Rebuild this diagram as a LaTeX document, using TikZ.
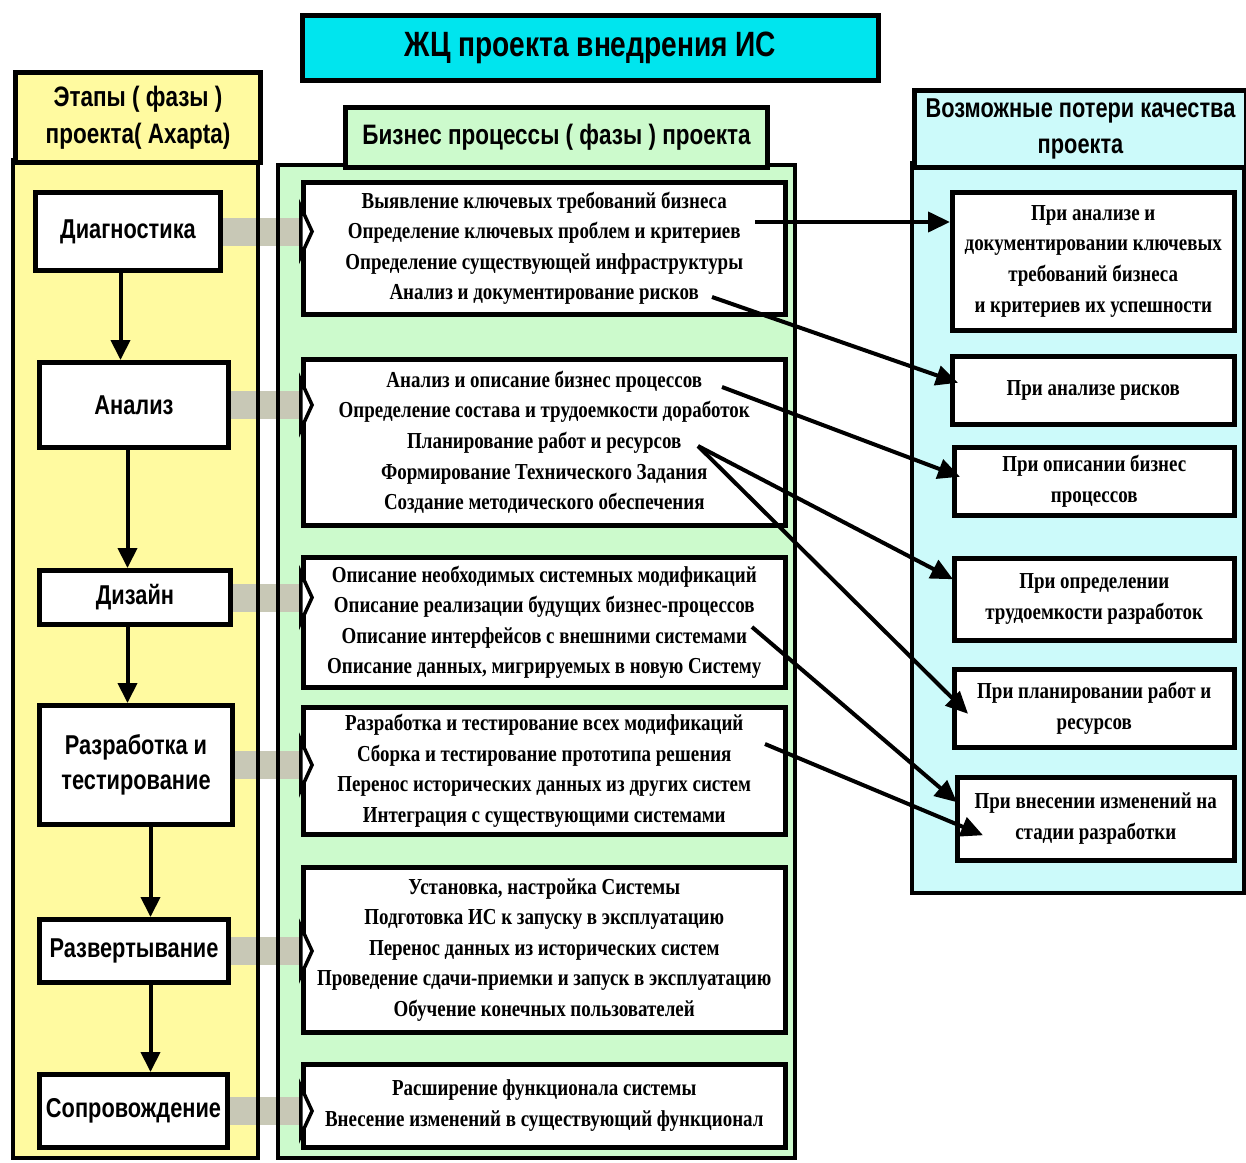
\documentclass[tikz,border=0pt]{standalone}
\usepackage{fontspec}
\setmainfont{Liberation Serif}
\newfontfamily\headfont[FakeStretch=0.8]{Liberation Sans}
\newfontfamily\procfont[FakeStretch=0.83]{Liberation Serif}
\usetikzlibrary{arrows.meta}
\definecolor{titlecyan}{RGB}{0,229,238}
\definecolor{stagebg}{RGB}{255,250,160}
\definecolor{procbg}{RGB}{204,250,204}
\definecolor{lossbg}{RGB}{204,250,250}
\definecolor{shaftgray}{RGB}{200,200,182}
\tikzset{
  hdbox/.style={draw,line width=1mm,align=center,anchor=north west,inner sep=0pt,
    font=\headfont\bfseries\fontsize{16}{21}\selectfont},
  stagebox/.style={draw,fill=white,line width=1mm,align=center,anchor=north west,inner sep=0pt,
    font=\headfont\bfseries\fontsize{15.5}{20}\selectfont},
  procbox/.style={draw,fill=white,line width=0.9mm,align=center,anchor=north west,inner sep=0pt,
    font=\procfont\bfseries\fontsize{13}{17.4}\selectfont},
  lossbox/.style={procbox},
  flow/.style={line width=0.8mm,-{Triangle[length=4mm,width=3.8mm]}},
  loss/.style={line width=0.8mm,-{Triangle[length=4.4mm,width=4mm]}},
  blockarr/.style={draw=shaftgray,line width=5.6mm,shorten >=-2.6mm,
    -{Triangle[length=3mm,width=13mm,line width=0.7mm,fill=white,color=black]}},
  col/.style={draw,line width=0.8mm}
}

\begin{document}
\begin{tikzpicture}[x=0.2mm,y=-0.2mm]
  \useasboundingbox (0,0) rectangle (1246,1162);
  % column backgrounds
  \fill[stagebg] (13,160) rectangle (258,1158);
  \fill[procbg] (278,165) rectangle (795,1158);
  \fill[lossbg] (912,163) rectangle (1244,893);

  % stages
  \node[stagebox,minimum width=37mm,minimum height=15.6mm] (diag) at (33,190) {Диагностика};
  \node[stagebox,minimum width=37.8mm,minimum height=17mm] (anal) at (37,360) {Анализ};
  \node[stagebox,minimum width=38.2mm,minimum height=10.8mm] (dsgn) at (37,568) {Дизайн};
  \node[stagebox,minimum width=38.6mm,minimum height=23.8mm] (dev) at (37,703) {Разработка и\\тестирование};
  \node[stagebox,minimum width=37.8mm,minimum height=12.6mm] (depl) at (37,917) {Развертывание};
  \node[stagebox,minimum width=37.6mm,minimum height=14.6mm] (supp) at (37,1072) {Сопровождение};

  % business processes
  \node[procbox,minimum width=96.4mm,minimum height=26.4mm] (pdiag) at (301,180)
    {Выявление ключевых требований бизнеса\\Определение ключевых проблем и критериев\\
     Определение существующей инфраструктуры\\Анализ и документирование рисков};
  \node[procbox,minimum width=96.4mm,minimum height=33.2mm] (panal) at (301,357)
    {Анализ и описание  бизнес процессов\\Определение состава и трудоемкости доработок\\
     Планирование работ и ресурсов\\Формирование Технического Задания\\
     Создание методического обеспечения};
  \node[procbox,minimum width=96.4mm,minimum height=26mm] (pdsgn) at (301,555)
    {Описание необходимых системных модификаций\\Описание реализации будущих бизнес-процессов\\
     Описание интерфейсов с внешними системами\\Описание данных, мигрируемых в новую Систему};
  \node[procbox,minimum width=96.4mm,minimum height=25.4mm] (pdev) at (301,705)
    {Разработка и тестирование  всех модификаций\\Сборка и тестирование прототипа решения\\
     Перенос исторических данных из других систем\\Интеграция с существующими системами};
  \node[procbox,minimum width=96.4mm,minimum height=33mm] (pdepl) at (301,865)
    {Установка, настройка Системы\\Подготовка ИС к запуску в эксплуатацию\\
     Перенос данных из исторических систем\\Проведение сдачи-приемки и запуск в эксплуатацию\\
     Обучение конечных пользователей};
  \node[procbox,minimum width=96.4mm,minimum height=16.6mm] (psupp) at (301,1062)
    {Расширение функционала системы\\Внесение изменений в существующий функционал};

  % stage -> processes
  \draw[blockarr] (diag.east) -- (diag.east -| pdiag.west);
  \draw[blockarr] (anal.east) -- (anal.east -| panal.west);
  \draw[blockarr] (dsgn.east) -- (dsgn.east -| pdsgn.west);
  \draw[blockarr] (dev.east) -- (dev.east -| pdev.west);
  \draw[blockarr] (depl.east) -- (depl.east -| pdepl.west);
  \draw[blockarr] (supp.east) -- (supp.east -| psupp.west);

  % column outlines and headers
  \draw[col] (13,160) rectangle (258,1158);
  \draw[col] (278,165) rectangle (795,1158);
  \draw[col] (912,163) rectangle (1244,893);
  \node[hdbox,fill=titlecyan,minimum width=115.2mm,minimum height=13mm,
    font=\headfont\bfseries\fontsize{20}{24}\selectfont] (title) at (300,13) {ЖЦ проекта внедрения ИС};
  \node[hdbox,fill=stagebg,minimum width=49mm,minimum height=18mm] (stagehd) at (13,70)
    {Этапы ( фазы )\\проекта( Axapta)};
  \node[hdbox,fill=procbg,minimum width=84.4mm,minimum height=12mm] (prochd) at (343,105)
    {Бизнес процессы  ( фазы ) проекта};
  \node[hdbox,fill=lossbg,minimum width=66.4mm,minimum height=15.4mm,
    font=\headfont\bfseries\fontsize{15.5}{20}\selectfont] (losshd) at (912,88)
    {Возможные потери качества\\проекта};

  % quality losses
  \node[lossbox,minimum width=56.4mm,minimum height=27.6mm] (lreq) at (950,190)
    {При анализе  и\\документировании ключевых\\требований бизнеса\\и  критериев  их успешности};
  \node[lossbox,minimum width=56.4mm,minimum height=13.6mm] (lrisk) at (950,354)
    {При анализе  рисков};
  \node[lossbox,minimum width=56mm,minimum height=13.6mm] (lbp) at (952,445)
    {При описании  бизнес\\процессов};
  \node[lossbox,minimum width=56mm,minimum height=16.4mm] (leff) at (952,556)
    {При определении\\трудоемкости разработок};
  \node[lossbox,minimum width=56mm,minimum height=15.6mm] (lplan) at (952,667)
    {При планировании работ и\\ресурсов};
  \node[lossbox,minimum width=55.4mm,minimum height=16.6mm] (lchg) at (955,775)
    {При внесении изменений на\\стадии  разработки};

  % stage order
  \draw[flow] ([xshift=-1.5mm]diag.south) -- ([xshift=-1.5mm]diag.south |- anal.north);
  \draw[flow] ([xshift=-1.3mm]anal.south) -- ([xshift=-1.3mm]anal.south |- dsgn.north);
  \draw[flow] ([xshift=-1.5mm]dsgn.south) -- ([xshift=-1.5mm]dsgn.south |- dev.north);
  \draw[flow] ([xshift=2.9mm]dev.south) -- ([xshift=2.9mm]dev.south |- depl.north);
  \draw[flow] ([xshift=3.3mm]depl.south) -- ([xshift=3.3mm]depl.south |- supp.north);

  % process -> loss
  \coordinate (sreq) at (755,222);
  \coordinate (srisk) at (712,297);
  \coordinate (sbp) at (722,387);
  \coordinate (splan) at (698,446);
  \coordinate (sif) at (752,627);
  \coordinate (sproto) at (765,744);
  \draw[loss] (sreq) -- (sreq -| lreq.west);
  \draw[loss] (srisk) -- ([xshift=1.6mm,yshift=1.5mm]lrisk.west);
  \draw[loss] (sbp) -- ([xshift=1.6mm,yshift=0.9mm]lbp.west);
  \draw[loss] (splan) -- ([xshift=0.2mm,yshift=4mm]leff.west);
  \draw[loss] (splan) -- ([xshift=3.2mm,yshift=-1.1mm]lplan.west);
  \draw[loss] (sif) -- ([xshift=0.4mm,yshift=3.3mm]lchg.west);
  \draw[loss] (sproto) -- ([xshift=5.6mm,yshift=-3.3mm]lchg.west);
\end{tikzpicture}
\end{document}
